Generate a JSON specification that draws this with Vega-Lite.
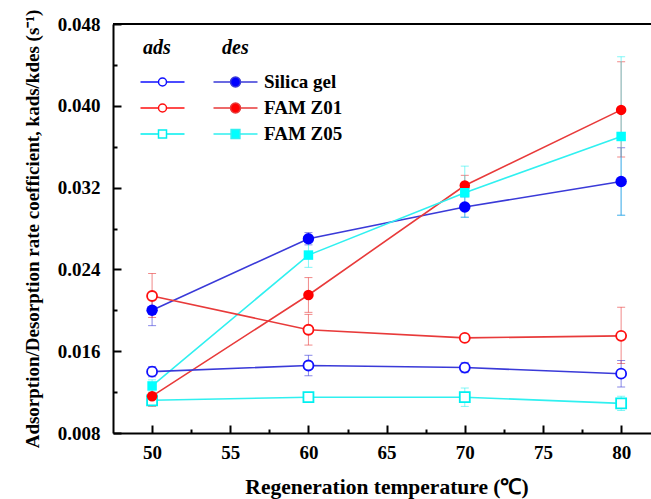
{
  "$schema": "https://vega.github.io/schema/vega-lite/v6.json",
  "width": 538,
  "height": 409,
  "autosize": "none",
  "padding": {"left": 113, "top": 24, "right": 0, "bottom": 66},
  "background": "white",
  "config": {"view": {"stroke": null}, "font": "Liberation Serif"},
  "data": {
    "values": [
      {"mat": "Silica gel", "type": "des", "T": 50, "v": 0.0200, "lo": 0.0185, "hi": 0.0215},
      {"mat": "Silica gel", "type": "des", "T": 60, "v": 0.0270, "lo": 0.0264, "hi": 0.0276},
      {"mat": "Silica gel", "type": "des", "T": 70, "v": 0.0301, "lo": 0.0291, "hi": 0.0311},
      {"mat": "Silica gel", "type": "des", "T": 80, "v": 0.0326, "lo": 0.0293, "hi": 0.0359},
      {"mat": "FAM Z01", "type": "des", "T": 50, "v": 0.0116, "lo": 0.0106, "hi": 0.0126},
      {"mat": "FAM Z01", "type": "des", "T": 60, "v": 0.0215, "lo": 0.0198, "hi": 0.0232},
      {"mat": "FAM Z01", "type": "des", "T": 70, "v": 0.0322, "lo": 0.0312, "hi": 0.0332},
      {"mat": "FAM Z01", "type": "des", "T": 80, "v": 0.0396, "lo": 0.0350, "hi": 0.0443},
      {"mat": "FAM Z05", "type": "des", "T": 50, "v": 0.0126, "lo": 0.0120, "hi": 0.0132},
      {"mat": "FAM Z05", "type": "des", "T": 60, "v": 0.0254, "lo": 0.0242, "hi": 0.0266},
      {"mat": "FAM Z05", "type": "des", "T": 70, "v": 0.0315, "lo": 0.0291, "hi": 0.0341},
      {"mat": "FAM Z05", "type": "des", "T": 80, "v": 0.0370, "lo": 0.0293, "hi": 0.0448},
      {"mat": "Silica gel", "type": "ads", "T": 50, "v": 0.0140, "lo": 0.0135, "hi": 0.0145},
      {"mat": "Silica gel", "type": "ads", "T": 60, "v": 0.0146, "lo": 0.0136, "hi": 0.0156},
      {"mat": "Silica gel", "type": "ads", "T": 70, "v": 0.0144, "lo": 0.0139, "hi": 0.0149},
      {"mat": "Silica gel", "type": "ads", "T": 80, "v": 0.0138, "lo": 0.0125, "hi": 0.0151},
      {"mat": "FAM Z01", "type": "ads", "T": 50, "v": 0.0214, "lo": 0.0193, "hi": 0.0236},
      {"mat": "FAM Z01", "type": "ads", "T": 60, "v": 0.0181, "lo": 0.0166, "hi": 0.0196},
      {"mat": "FAM Z01", "type": "ads", "T": 70, "v": 0.0173, "lo": 0.0170, "hi": 0.0176},
      {"mat": "FAM Z01", "type": "ads", "T": 80, "v": 0.0175, "lo": 0.0148, "hi": 0.0203},
      {"mat": "FAM Z05", "type": "ads", "T": 50, "v": 0.0112, "lo": 0.0108, "hi": 0.0116},
      {"mat": "FAM Z05", "type": "ads", "T": 60, "v": 0.0115, "lo": 0.0112, "hi": 0.0118},
      {"mat": "FAM Z05", "type": "ads", "T": 70, "v": 0.0115, "lo": 0.0106, "hi": 0.0124},
      {"mat": "FAM Z05", "type": "ads", "T": 80, "v": 0.0109, "lo": 0.0102, "hi": 0.0116}
    ]
  },
  "layer": [
    {
      "mark": {"type": "errorbar", "ticks": {"size": 8, "opacity": 0.6}, "rule": {"opacity": 0.6}, "thickness": 1},
      "encoding": {
        "x": {"field": "T", "type": "quantitative", "title": "Regeneration temperature (℃)", "scale": {"domain": [47.5, 81.91], "nice": false, "zero": false}},
        "y": {"field": "lo", "type": "quantitative", "title": "Adsorption/Desorption rate coefficient, kads/kdes (s⁻¹)", "scale": {"domain": [0.008, 0.048], "nice": false, "zero": false}},
        "y2": {"field": "hi"},
        "color": {"field": "mat", "type": "nominal", "legend": null, "scale": {"domain": ["FAM Z05", "FAM Z01", "Silica gel"], "range": ["#30f0f0", "#e83a3a", "#3a3ad8"]}}
      }
    },
    {
      "mark": {"type": "line", "strokeWidth": 1.6},
      "encoding": {
        "x": {
          "field": "T", "type": "quantitative", "title": "Regeneration temperature (℃)",
          "scale": {"domain": [47.5, 81.91], "nice": false, "zero": false},
          "axis": {
            "values": [50, 52.5, 55, 57.5, 60, 62.5, 65, 67.5, 70, 72.5, 75, 77.5, 80],
            "labelExpr": "datum.value % 5 == 0 ? format(datum.value, 'd') : ''",
            "tickSize": {"condition": {"test": "datum.value % 5 == 0", "value": -8}, "value": -4},
            "tickWidth": 2, "tickColor": "black", "domainColor": "black", "domainWidth": 2,
            "grid": false, "labelFlush": false, "labelOverlap": false,
            "labelFont": "Liberation Serif", "labelFontWeight": "bold", "labelFontSize": 19, "labelColor": "black", "labelPadding": 18,
            "titleFont": "Liberation Serif", "titleFontWeight": "bold", "titleFontSize": 21.5, "titleColor": "black",
            "titleX": 273.5, "titleY": 54, "titleBaseline": "middle", "titleAlign": "center"
          }
        },
        "y": {
          "field": "v", "type": "quantitative", "title": "Adsorption/Desorption rate coefficient, kads/kdes (s⁻¹)",
          "scale": {"domain": [0.008, 0.048], "nice": false, "zero": false},
          "axis": {
            "values": [0.008, 0.012, 0.016, 0.020, 0.024, 0.028, 0.032, 0.036, 0.040, 0.044, 0.048],
            "labelExpr": "round(datum.value * 1000) % 8 == 0 ? format(datum.value, '.3f') : ''",
            "tickSize": {"condition": {"test": "round(datum.value * 1000) % 8 == 0", "value": -8}, "value": -4},
            "tickWidth": 2, "tickColor": "black", "domainColor": "black", "domainWidth": 2,
            "grid": false, "labelFlush": false, "labelOverlap": false,
            "labelFont": "Liberation Serif", "labelFontWeight": "bold", "labelFontSize": 19, "labelColor": "black", "labelPadding": 21,
            "titleFont": "Liberation Serif", "titleFontWeight": "bold", "titleFontSize": 19, "titleColor": "black",
            "titleX": -81, "titleY": 204.5, "titleBaseline": "middle", "titleAlign": "center"
          }
        },
        "color": {"field": "mat", "type": "nominal", "legend": null},
        "detail": [{"field": "mat"}, {"field": "type"}]
      }
    },
    {
      "transform": [{"filter": "datum.type === 'ads'"}],
      "mark": {"type": "point", "filled": false, "fill": "white", "strokeWidth": 1.8, "size": 100, "opacity": 1},
      "encoding": {
        "x": {"field": "T", "type": "quantitative", "title": "Regeneration temperature (℃)"},
        "y": {"field": "v", "type": "quantitative", "title": "Adsorption/Desorption rate coefficient, kads/kdes (s⁻¹)"},
        "shape": {"field": "mat", "type": "nominal", "legend": null, "scale": {"domain": ["FAM Z05", "FAM Z01", "Silica gel"], "range": ["square", "circle", "circle"]}},
        "stroke": {
          "field": "mat", "type": "nominal",
          "scale": {"domain": ["FAM Z01", "Silica gel", "FAM Z05"], "range": ["#ff1010", "#1010ff", "#00f0f0"]},
          "legend": {
            "orient": "none", "legendX": 30, "legendY": 14, "padding": 0,
            "values": ["Silica gel", "FAM Z01", "FAM Z05"],
            "title": "ads", "titleFont": "Liberation Serif", "titleFontSize": 20, "titleFontStyle": "italic", "titleFontWeight": "bold", "titleColor": "black", "titlePadding": 14.5,
            "labelExpr": "''", "labelFontSize": 19, "rowPadding": 6,
            "symbolSize": 64, "symbolOffset": 10, "symbolStrokeWidth": 1.5, "symbolFillColor": "white",
            "symbolType": {"expr": "datum.value === 'FAM Z05' ? 'M-5.5,0H-1M-1,-1H1V1H-1ZM1,0H5.5' : 'M-5.5,0H-1M1,0A1,1,0,1,1,-1,0A1,1,0,1,1,1,0M1,0H5.5'"}
          }
        }
      }
    },
    {
      "transform": [{"filter": "datum.type === 'des'"}],
      "mark": {"type": "point", "filled": true, "opacity": 1, "strokeWidth": 0},
      "encoding": {
        "x": {"field": "T", "type": "quantitative", "title": "Regeneration temperature (℃)"},
        "y": {"field": "v", "type": "quantitative", "title": "Adsorption/Desorption rate coefficient, kads/kdes (s⁻¹)"},
        "shape": {"field": "mat", "type": "nominal", "legend": null},
        "size": {"field": "mat", "type": "nominal", "legend": null, "scale": {"domain": ["FAM Z05", "FAM Z01", "Silica gel"], "range": [90, 130, 130]}},
        "fill": {
          "field": "mat", "type": "nominal",
          "scale": {"domain": ["Silica gel", "FAM Z01", "FAM Z05"], "range": ["#0000ff", "#ff0000", "#00ffff"]},
          "legend": {
            "orient": "none", "legendX": 109, "legendY": 14, "padding": 0,
            "values": ["Silica gel", "FAM Z01", "FAM Z05"],
            "title": "des", "titleFont": "Liberation Serif", "titleFontSize": 20, "titleFontStyle": "italic", "titleFontWeight": "bold", "titleColor": "black", "titlePadding": 14.5,
            "labelFont": "Liberation Serif", "labelFontSize": 19, "labelFontWeight": "bold", "labelColor": "black", "labelOffset": 19, "rowPadding": 6,
            "symbolSize": 64, "symbolOffset": 4, "symbolStrokeWidth": 1.5,
            "symbolStrokeColor": {"expr": "datum.value === 'Silica gel' ? '#3a3ad8' : datum.value === 'FAM Z01' ? '#e83a3a' : '#30f0f0'"},
            "symbolType": {"expr": "datum.value === 'FAM Z05' ? 'M-5.5,0H-1.1M-1.1,-1.1H1.1V1.1H-1.1ZM1.1,0H5.5' : 'M-5.5,0H-1.25M1.25,0A1.25,1.25,0,1,1,-1.25,0A1.25,1.25,0,1,1,1.25,0M1.25,0H5.5'"}
          }
        }
      }
    },
    {
      "data": {"values": [{}]},
      "mark": {"type": "rule", "color": "black", "strokeWidth": 2},
      "encoding": {
        "x": {"datum": 47.5, "type": "quantitative"},
        "x2": {"datum": 81.91},
        "y": {"datum": 0.048, "type": "quantitative"}
      }
    }
  ]
}
